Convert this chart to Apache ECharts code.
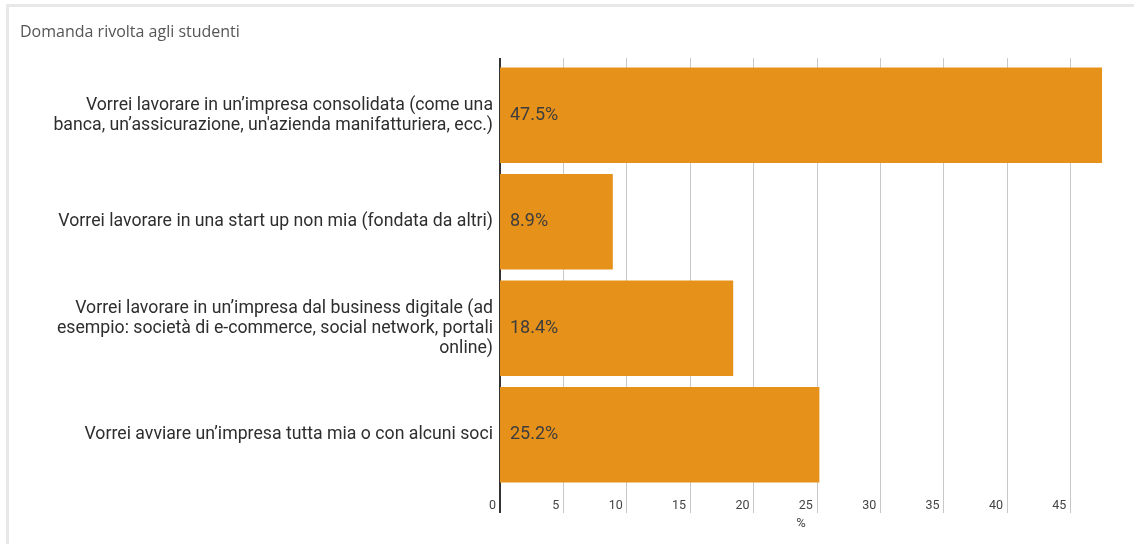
<!DOCTYPE html>
<html>
<head>
<meta charset="utf-8">
<script src="https://cdn.jsdelivr.net/npm/echarts@6/dist/echarts.min.js"></script>
<style>
  html, body { margin: 0; padding: 0; background: #fff; }
  #wrap { position: relative; width: 1134px; height: 544px; overflow: hidden; }
  #chart { position: absolute; left: 0; top: 0; width: 1134px; height: 544px; }
  #frame { position: absolute; left: 6px; top: 4px; right: -10px; bottom: -10px;
           border-top: 3px solid #e8e8e8; border-left: 3px solid #e8e8e8; pointer-events: none; }
</style>
</head>
<body>
<div id="wrap">
  <div id="chart"></div>
  <div id="frame"></div>
</div>
<script>
// Answers, top to bottom
const categories = [
  "Vorrei lavorare in un’impresa consolidata (come una\nbanca, un’assicurazione, un'azienda manifatturiera, ecc.)",
  "Vorrei lavorare in una start up non mia (fondata da altri)",
  "Vorrei lavorare in un’impresa dal business digitale (ad\nesempio: società di e-commerce, social network, portali\nonline)",
  "Vorrei avviare un’impresa tutta mia o con alcuni soci"
];
// Share of students, percent
const values = [47.5, 8.9, 18.4, 25.2];
// Tick values on the percentage axis
const tickValues = [0, 5, 10, 15, 20, 25, 30, 35, 40, 45];

const titleText = "Domanda rivolta agli studenti";
const axisName = "%";

const chart = echarts.init(document.getElementById('chart'), null, { renderer: 'canvas' });

const xMax = Math.max.apply(null, values);
const gridLineColor = '#c8c8c8';

chart.setOption({
  animation: false,
  backgroundColor: 'transparent',
  title: {
    text: titleText,
    left: 15,
    top: 19,
    textStyle: { fontFamily: 'Open Sans', fontSize: 16, fontWeight: 'normal', color: '#555' }
  },
  grid: { left: 500, right: 32, top: 62, bottom: 56, containLabel: false },
  xAxis: [
    {
      type: 'value',
      min: 0,
      max: xMax,
      interval: 5,
      position: 'bottom',
      name: axisName,
      nameLocation: 'middle',
      nameGap: 28,
      nameTextStyle: { fontFamily: 'Roboto', fontSize: 13, color: '#444' },
      axisLine: { show: false },
      axisTick: { show: true, customValues: tickValues, length: 25, lineStyle: { color: gridLineColor, width: 1 } },
      axisLabel: {
        customValues: tickValues,
        margin: 11,
        align: 'right',
        padding: [0, 4, 0, 0],
        verticalAlign: 'top',
        fontFamily: 'Roboto', fontSize: 12.5, color: '#444'
      },
      splitLine: { show: true, lineStyle: { color: gridLineColor, width: 1 } }
    },
    {
      // short extension of the grid lines above the first bar
      type: 'value',
      min: 0,
      max: xMax,
      interval: 5,
      position: 'top',
      axisLine: { show: false },
      axisTick: { show: true, customValues: tickValues, length: 4, lineStyle: { color: gridLineColor, width: 1 } },
      axisLabel: { show: false },
      splitLine: { show: false }
    },
    {
      // baseline extensions, dark
      type: 'value',
      min: 0,
      max: xMax,
      position: 'bottom',
      axisLine: { show: false },
      axisTick: { show: true, customValues: [0], length: 25, lineStyle: { color: '#333', width: 2 } },
      axisLabel: { show: false },
      splitLine: { show: false }
    },
    {
      type: 'value',
      min: 0,
      max: xMax,
      position: 'top',
      axisLine: { show: false },
      axisTick: { show: true, customValues: [0], length: 4, lineStyle: { color: '#333', width: 2 } },
      axisLabel: { show: false },
      splitLine: { show: false }
    }
  ],
  yAxis: {
    type: 'category',
    inverse: true,
    data: categories,
    axisLine: { show: true, lineStyle: { color: '#333', width: 2 } },
    axisTick: { show: false },
    axisLabel: {
      margin: 7,
      align: 'right',
      fontFamily: 'Roboto',
      fontSize: 17.7,
      lineHeight: 20,
      color: '#2e2e2e'
    }
  },
  series: [{
    type: 'bar',
    xAxisIndex: 0,
    data: values,
    barWidth: '89.5%',
    itemStyle: { color: '#e5911a' },
    label: {
      show: true,
      position: 'insideLeft',
      distance: 10,
      formatter: p => p.value.toFixed(1) + '%',
      fontFamily: 'Roboto',
      fontSize: 18,
      color: '#3d3d3d'
    },
    z: 3
  }]
});
</script>
</body>
</html>
